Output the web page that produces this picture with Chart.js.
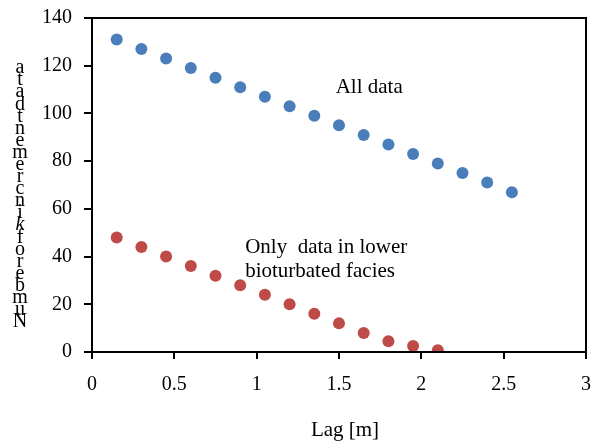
<!DOCTYPE html>
<html>
<head>
<meta charset="utf-8">
<script src="https://cdn.jsdelivr.net/npm/chart.js@4/dist/chart.umd.min.js"></script>
<style>
  html, body { margin: 0; padding: 0; background: #fff; }
  #wrap { width: 592px; height: 441px; position: relative; }
</style>
</head>
<body>
<div id="wrap"><canvas id="lagChart"></canvas></div>
<script>
const lagAll = [0.15, 0.3, 0.45, 0.6, 0.75, 0.9, 1.05, 1.2, 1.35, 1.5, 1.65, 1.8, 1.95, 2.1, 2.25, 2.4, 2.55];
const countAll = [131, 127, 123, 119, 115, 111, 107, 103, 99, 95, 91, 87, 83, 79, 75, 71, 67];
const lagLower = [0.15, 0.3, 0.45, 0.6, 0.75, 0.9, 1.05, 1.2, 1.35, 1.5, 1.65, 1.8, 1.95, 2.1];
const countLower = [48, 44, 40, 36, 32, 28, 24, 20, 16, 12, 8, 4.5, 2.5, 0.7];
const yAxisTitle = 'Number of k increment data';
const xAxisTitle = 'Lag [m]';
const notes = [
  { x: 1.48, y: 111, lines: ['All data'] },
  { x: 0.93, y: 44, lines: ['Only  data in lower', 'bioturbated facies'] },
];

const serif = '"Liberation Serif", "Times New Roman", serif';

const toPoints = (xs, ys) => xs.map((x, i) => ({ x, y: ys[i] }));

const frame = {
  id: 'frame',
  afterDraw(chart) {
    const { ctx, chartArea: a, scales } = chart;
    ctx.save();
    ctx.strokeStyle = '#000';
    ctx.lineWidth = 2;
    ctx.strokeRect(a.left, a.top, a.right - a.left, a.bottom - a.top);
    ctx.beginPath();
    ctx.moveTo(a.left - 8, a.top);
    ctx.lineTo(a.left, a.top);
    ctx.stroke();

    ctx.fillStyle = '#000';
    ctx.font = '21px ' + serif;
    ctx.textBaseline = 'middle';
    ctx.textAlign = 'left';
    notes.forEach((n) => {
      const px = scales.x.getPixelForValue(n.x);
      const py = scales.y.getPixelForValue(n.y);
      n.lines.forEach((line, i) => ctx.fillText(line, px, py + i * 24));
    });

    // stacked y-axis title, bottom letter first
    const chars = yAxisTitle.replace(/ /g, '').split('');
    const bottom = 322, top = 68;
    const step = (bottom - top) / (chars.length - 1);
    ctx.textAlign = 'center';
    chars.forEach((c, i) => {
      ctx.font = (c === 'k' ? 'italic ' : '') + '20px ' + serif;
      ctx.fillText(c, 20, bottom - i * step);
    });

    ctx.font = '21px ' + serif;
    ctx.fillText(xAxisTitle, 345, 430);
    ctx.restore();
  },
};

new Chart(document.getElementById('lagChart'), {
  type: 'scatter',
  data: {
    datasets: [
      {
        label: 'All data',
        data: toPoints(lagAll, countAll),
        backgroundColor: '#4a7ebb',
        borderColor: '#4a7ebb',
        pointRadius: 6,
        borderWidth: 0,
      },
      {
        label: 'Only data in lower bioturbated facies',
        data: toPoints(lagLower, countLower),
        backgroundColor: '#be4b48',
        borderColor: '#be4b48',
        pointRadius: 6,
        borderWidth: 0,
      },
    ],
  },
  options: {
    responsive: true,
    maintainAspectRatio: false,
    animation: false,
    layout: { padding: { top: 18, right: 3, left: 0, bottom: 0 } },
    plugins: {
      legend: { display: false },
      tooltip: { enabled: false },
    },
    scales: {
      x: {
        type: 'linear',
        min: 0,
        max: 3,
        ticks: {
          stepSize: 0.5,
          color: '#000',
          padding: 14,
          maxRotation: 0,
          font: { family: serif, size: 20 },
          callback: (v) => String(v),
        },
        grid: { drawOnChartArea: false, color: '#000', tickLength: 7, lineWidth: 2 },
        border: { color: '#000', width: 2 },
        afterFit(scale) {
          scale.height = 89;
          scale.paddingLeft = 0;
          scale.paddingRight = 0;
        },
      },
      y: {
        min: 0,
        max: 140,
        ticks: {
          stepSize: 20,
          color: '#000',
          padding: 12,
          font: { family: serif, size: 20 },
        },
        grid: { drawOnChartArea: false, color: '#000', tickLength: 8, lineWidth: 2 },
        border: { color: '#000', width: 2 },
        afterFit(scale) {
          scale.width = 92;
          scale.paddingTop = 0;
          scale.paddingBottom = 0;
        },
      },
    },
  },
  plugins: [frame],
});
</script>
</body>
</html>
